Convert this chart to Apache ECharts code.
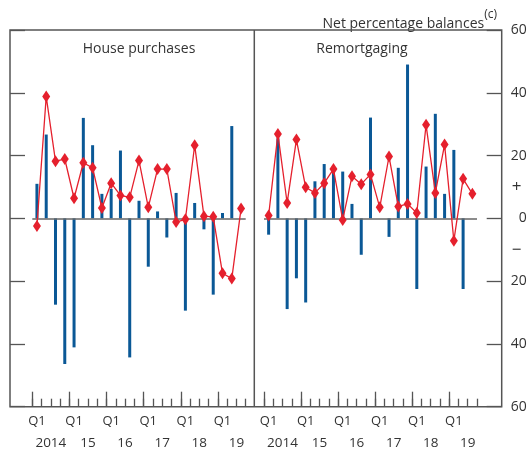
<!DOCTYPE html>
<html>
<head>
<meta charset="utf-8">
<script src="https://cdn.jsdelivr.net/npm/echarts@6/dist/echarts.min.js"></script>
<style>
html,body{margin:0;padding:0;background:#fff;}
#chart{width:532px;height:454px;}
</style>
</head>
<body>
<div id="chart"></div>
<script>
// ---- data ----
const quarters = ['Q1','Q2','Q3','Q4','Q1','Q2','Q3','Q4','Q1','Q2','Q3','Q4','Q1','Q2','Q3','Q4','Q1','Q2','Q3','Q4','Q1','Q2','Q3'];
const years = ['2014','15','16','17','18','19'];
const yTickLabels = {60:'60',40:'40',20:'20',0:'0','-20':'20','-40':'40','-60':'60'};
const signLabels = {10:'+','-10':'\u2212'};
const panelTitles = ['House purchases','Remortgaging'];
const housePurchaseBars = [11.0, 26.7, -27.5, -46.4, -41.1, 32.0, 23.3, 7.8, 9.4, 21.6, -44.3, 5.6, -15.4, 2.2, -6.1, 8.1, -29.4, 4.9, -3.5, -24.3, 1.7, 29.4, null];
const housePurchaseLine = [-2.4, 38.8, 18.2, 18.9, 6.4, 17.7, 16.1, 3.3, 11.2, 7.3, 6.7, 18.4, 3.5, 15.7, 15.7, -1.2, -0.3, 23.3, 0.7, 0.5, -17.5, -19.2, 3.1];
const remortgagingBars = [-5.2, 25.5, -28.9, -19.1, -26.8, 11.8, 17.3, 16.0, 14.9, 4.6, -11.6, 32.1, null, -5.9, 16.1, 49.0, -22.5, 16.5, 33.3, 7.8, 21.8, -22.5, null];
const remortgagingLine = [0.9, 26.9, 4.9, 25.1, 9.9, 8.1, 11.2, 15.7, -0.5, 13.4, 10.9, 14.0, 3.5, 19.7, 3.8, 4.6, 1.7, 29.8, 8.1, 23.5, -7.1, 12.6, 7.8];

// year labels sit on quarter boundaries (mid-year = boundary after Q2)
const yearBoundaries = [];
for (let i = 0; i <= quarters.length; i++) {
  yearBoundaries.push((i % 4 === 2) ? years[(i - 2) / 4] : '');
}

const FONT = 'Open Sans';
const TXT = '#333';
const AX = '#555';
const BAR = '#0a5896';
const RED = '#e5202d';

const chart = echarts.init(document.getElementById('chart'), null, {renderer: 'canvas'});

const grids = [
  {left: 32.3, right: 286.3, top: 30, bottom: 47.3},
  {left: 264, right: 55, top: 30, bottom: 47.3}
];

function qAxis(gi) {
  return {
    type: 'category', gridIndex: gi, data: quarters, boundaryGap: true, position: 'bottom',
    axisLine: {show: false, onZero: false},
    axisTick: {show: true, inside: true, length: 8, interval: 0, lineStyle: {color: AX, width: 1.3}},
    axisLabel: {interval: function (i) { return i % 4 === 0; }, margin: 8, fontSize: 13, fontFamily: FONT, color: TXT}
  };
}
function yearAxis(gi) {
  return {
    type: 'category', gridIndex: gi, data: yearBoundaries, boundaryGap: false, position: 'bottom',
    axisLine: {show: false, onZero: false},
    axisTick: {show: true, inside: true, length: 15, interval: function (i) { return i % 4 === 0; }, lineStyle: {color: AX, width: 1.3}},
    axisLabel: {interval: 0, margin: 29, fontSize: 13.5, fontFamily: FONT, color: TXT}
  };
}

const option = {
  animation: false,
  backgroundColor: '#fff',
  title: [
    {text: '{a|Net percentage balances}{b|(c)}', right: 30, top: 4,
     textStyle: {fontWeight: 'normal', rich: {a: {fontSize: 14, fontWeight: 'normal', fontFamily: FONT, color: TXT, lineHeight: 22, verticalAlign: 'bottom'},
                        b: {fontSize: 12, fontWeight: 'normal', fontFamily: FONT, color: TXT, verticalAlign: 'top', lineHeight: 20}}}},
    {text: panelTitles[0], left: 134, top: 37, textAlign: 'center', textStyle: {fontSize: 14, fontWeight: 'normal', fontFamily: FONT, color: TXT}},
    {text: panelTitles[1], left: 357, top: 37, textAlign: 'center', textStyle: {fontSize: 14, fontWeight: 'normal', fontFamily: FONT, color: TXT}}
  ],
  grid: grids,
  xAxis: [qAxis(0), yearAxis(0), qAxis(1), yearAxis(1)],
  yAxis: [
    {type: 'value', gridIndex: 0, min: -60, max: 60, interval: 20, position: 'left', offset: 22.3,
     axisLine: {show: false}, splitLine: {show: false},
     axisTick: {show: true, inside: true, length: 15, lineStyle: {color: AX, width: 1.3}},
     axisLabel: {show: false}},
    {type: 'value', gridIndex: 1, min: -60, max: 60, interval: 20, position: 'right', offset: 24.7,
     axisLine: {show: false}, splitLine: {show: false},
     axisTick: {show: true, inside: true, length: 15, lineStyle: {color: AX, width: 1.3}},
     axisLabel: {show: true, align: 'right', margin: 25, fontSize: 14, fontFamily: FONT, color: TXT,
                 formatter: function (v) { return yTickLabels[v] || ''; }}},
    {type: 'value', gridIndex: 1, min: -60, max: 60, interval: 10, position: 'right', offset: 24.7,
     axisLine: {show: false}, splitLine: {show: false}, axisTick: {show: false},
     axisLabel: {show: true, align: 'center', margin: 15, fontSize: 17, fontFamily: FONT, color: TXT,
                 formatter: function (v) { return signLabels[v] || ''; }}}
  ],
  graphic: [
    {type: 'rect', shape: {x: 10, y: 30, width: 491.7, height: 376.7}, style: {fill: 'none', stroke: AX, lineWidth: 1.5}, z: 100},
    {type: 'line', shape: {x1: 254.3, y1: 30, x2: 254.3, y2: 406.7}, style: {stroke: AX, lineWidth: 1.5}, z: 100}
  ],
  series: [
    {type: 'bar', xAxisIndex: 0, yAxisIndex: 0, data: housePurchaseBars, barWidth: 3, itemStyle: {color: BAR}, z: 2,
     markLine: {silent: true, symbol: 'none', label: {show: false}, lineStyle: {color: '#666', width: 1.5, type: 'solid'}, data: [{yAxis: 0}]}},
    {type: 'line', xAxisIndex: 0, yAxisIndex: 0, data: housePurchaseLine, symbol: 'diamond', symbolSize: [8, 12], showAllSymbol: true,
     lineStyle: {color: RED, width: 1.3}, itemStyle: {color: RED}, z: 5},
    {type: 'bar', xAxisIndex: 2, yAxisIndex: 1, data: remortgagingBars, barWidth: 3, itemStyle: {color: BAR}, z: 2,
     markLine: {silent: true, symbol: 'none', label: {show: false}, lineStyle: {color: '#666', width: 1.5, type: 'solid'}, data: [{yAxis: 0}]}},
    {type: 'line', xAxisIndex: 2, yAxisIndex: 1, data: remortgagingLine, symbol: 'diamond', symbolSize: [8, 12], showAllSymbol: true,
     lineStyle: {color: RED, width: 1.3}, itemStyle: {color: RED}, z: 5}
  ]
};
chart.setOption(option);
</script>
</body>
</html>
